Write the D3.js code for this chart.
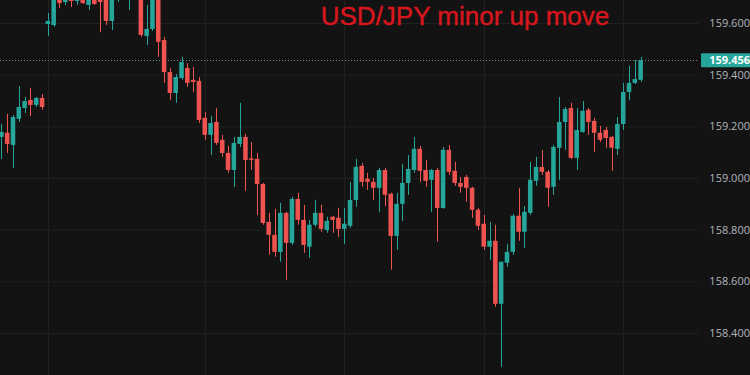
<!DOCTYPE html>
<html>
<head>
<meta charset="utf-8">
<script src="https://cdn.jsdelivr.net/npm/d3@7"></script>
<style>
  html, body { margin: 0; padding: 0; background: #131313; overflow: hidden; }
  svg { display: block; }
</style>
</head>
<body>
<svg id="mainSvg"></svg>
<script>
// OHLC of each candle, oldest first (USD/JPY)
const open = [
  159.159, 159.175, 159.128, 159.229, 159.271, 159.302, 159.283, 159.310, 159.596, 159.592,
  159.720, 159.681, 159.704, 159.685, 159.708, 159.670, 159.704, 159.701, 159.697, 159.608,
  159.708, 159.747, 159.708, 159.735, 159.750, 159.550, 159.577, 159.720, 159.534, 159.410,
  159.329, 159.387, 159.426, 159.380, 159.376, 159.233, 159.167, 159.217, 159.148, 159.097,
  159.031, 159.132, 159.159, 159.076, 159.074, 158.977, 158.830, 158.780, 158.714, 158.865,
  158.749, 158.919, 158.838, 158.734, 158.819, 158.865, 158.799, 158.850, 158.846, 158.803,
  158.815, 158.915, 159.047, 158.997, 158.985, 158.962, 159.031, 158.939, 158.776, 158.900,
  158.981, 159.031, 159.113, 159.031, 158.993, 159.031, 158.884, 159.109, 159.028, 158.981,
  159.004, 158.962, 158.877, 158.823, 158.734, 158.757, 158.513, 158.672, 158.714, 158.854,
  158.792, 158.865, 158.989, 159.043, 159.024, 158.966, 159.117, 159.217, 159.271, 159.078,
  159.178, 159.264, 159.221, 159.175, 159.186, 159.159, 159.113, 159.209, 159.333, 159.368, 159.380
];
const high = [
  159.209, 159.248, 159.244, 159.356, 159.314, 159.349, 159.314, 159.325, 159.639, 159.728,
  159.735, 159.728, 159.728, 159.735, 159.728, 159.728, 159.724, 159.720, 159.712, 159.720,
  159.747, 159.775, 159.766, 159.770, 159.770, 159.670, 159.747, 159.735, 159.546, 159.426,
  159.403, 159.469, 159.445, 159.430, 159.391, 159.256, 159.240, 159.271, 159.167, 159.124,
  159.159, 159.291, 159.171, 159.140, 159.097, 158.981, 158.865, 158.881, 158.904, 158.869,
  158.927, 158.943, 158.896, 158.838, 158.915, 158.896, 158.850, 158.854, 158.884, 158.884,
  158.985, 159.074, 159.058, 159.020, 159.000, 159.039, 159.039, 158.943, 158.943, 159.055,
  159.089, 159.159, 159.124, 159.070, 159.035, 159.039, 159.120, 159.128, 159.062, 159.004,
  159.012, 158.966, 158.884, 158.857, 158.830, 158.819, 158.676, 158.745, 158.861, 158.962,
  158.892, 159.062, 159.082, 159.109, 159.031, 159.128, 159.314, 159.275, 159.291, 159.271,
  159.298, 159.271, 159.233, 159.202, 159.198, 159.163, 159.236, 159.368, 159.434, 159.457, 159.469
];
const low = [
  159.074, 159.097, 159.039, 159.217, 159.252, 159.240, 159.275, 159.264, 159.550, 159.585,
  159.658, 159.670, 159.662, 159.670, 159.674, 159.650, 159.670, 159.565, 159.592, 159.573,
  159.681, 159.697, 159.650, 159.700, 159.546, 159.515, 159.569, 159.469, 159.368, 159.302,
  159.291, 159.380, 159.352, 159.333, 159.213, 159.148, 159.089, 159.128, 159.082, 159.020,
  158.966, 159.120, 158.950, 159.031, 158.857, 158.819, 158.703, 158.695, 158.676, 158.606,
  158.741, 158.819, 158.710, 158.691, 158.811, 158.792, 158.788, 158.788, 158.772, 158.745,
  158.807, 158.888, 158.966, 158.954, 158.915, 158.869, 158.892, 158.645, 158.722, 158.834,
  158.935, 159.020, 158.985, 158.966, 158.869, 158.753, 158.881, 159.012, 158.970, 158.943,
  158.908, 158.846, 158.799, 158.722, 158.683, 158.502, 158.269, 158.656, 158.703, 158.757,
  158.730, 158.857, 158.970, 159.012, 158.888, 158.935, 158.993, 159.109, 159.074, 159.031,
  159.175, 159.167, 159.101, 159.140, 159.117, 159.028, 159.089, 159.186, 159.302, 159.364, 159.372
];
const close = [
  159.178, 159.132, 159.236, 159.275, 159.298, 159.283, 159.310, 159.275, 159.608, 159.708,
  159.677, 159.704, 159.685, 159.708, 159.677, 159.701, 159.674, 159.681, 159.608, 159.701,
  159.728, 159.708, 159.735, 159.750, 159.554, 159.577, 159.728, 159.527, 159.410, 159.329,
  159.391, 159.449, 159.368, 159.372, 159.225, 159.167, 159.213, 159.136, 159.097, 159.031,
  159.136, 159.159, 159.070, 159.070, 158.977, 158.826, 158.780, 158.714, 158.865, 158.749,
  158.919, 158.838, 158.741, 158.819, 158.865, 158.803, 158.834, 158.838, 158.803, 158.823,
  158.915, 159.043, 158.985, 158.985, 158.962, 159.031, 158.935, 158.776, 158.900, 158.981,
  159.035, 159.113, 159.028, 158.989, 159.031, 158.884, 159.109, 159.024, 158.981, 158.966,
  158.962, 158.877, 158.815, 158.734, 158.757, 158.513, 158.676, 158.714, 158.854, 158.792,
  158.869, 158.993, 159.043, 159.024, 158.962, 159.120, 159.217, 159.267, 159.078, 159.186,
  159.260, 159.217, 159.175, 159.148, 159.155, 159.117, 159.209, 159.333, 159.368, 159.383, 159.456
];
// price ticks on the right scale
const priceTicks = [158.4, 158.6, 158.8, 159.0, 159.2, 159.4, 159.6];
// candles where a session separator falls
const sessionBreaks = [8, 35, 59, 83, 107];
const title = "USD/JPY minor up move";

const width = 750;
const height = 375;
const plotRight = 699;
const upColor = "#26a69a";
const downColor = "#ef5350";

const candles = close.map((c, i) => ({ i, o: open[i], h: high[i], l: low[i], c }));

const svg = d3.select("#mainSvg")
  .attr("width", width)
  .attr("height", height);

const xScale = d3.scaleBand()
  .domain(candles.map(d => d.i))
  .range([-0.9, 642.9])
  .paddingInner(0.22);

const yScale = d3.scaleLinear()
  .domain([158.4, 159.6])
  .range([333, 23]);

const xMid = i => xScale(i) + xScale.bandwidth() / 2;

// grid
svg.append("g")
  .attr("transform", `translate(${plotRight},0)`)
  .call(d3.axisLeft(yScale).tickValues(priceTicks).tickSize(plotRight).tickFormat(""))
  .call(g => g.select(".domain").remove())
  .selectAll("line")
  .attr("stroke", "#202020");

svg.append("g")
  .selectAll("line")
  .data(sessionBreaks)
  .enter()
  .append("line")
  .attr("x1", d => Math.round(xMid(d)) + 0.5)
  .attr("x2", d => Math.round(xMid(d)) + 0.5)
  .attr("y1", 0)
  .attr("y2", height)
  .attr("stroke", "#202020");

// title, kept inside the top edge
svg.append("text")
  .attr("x", 465)
  .attr("y", 25)
  .attr("text-anchor", "middle")
  .style("font-family", "'Liberation Sans', Arial, sans-serif")
  .style("font-size", "26px")
  .attr("fill", "#d8161d")
  .attr("stroke", "#d8161d")
  .attr("stroke-width", 0.4)
  .text(title);

// last price line
const last = candles[candles.length - 1];
svg.append("line")
  .attr("x1", 0)
  .attr("x2", plotRight)
  .attr("y1", Math.round(yScale(last.c)) + 0.5)
  .attr("y2", Math.round(yScale(last.c)) + 0.5)
  .attr("stroke", "#7d8590")
  .attr("stroke-dasharray", "1,2");

// candles
const candleG = svg.append("g")
  .selectAll("g")
  .data(candles)
  .enter()
  .append("g");

candleG.append("line")
  .attr("x1", d => Math.round(xMid(d.i)) + 0.5)
  .attr("x2", d => Math.round(xMid(d.i)) + 0.5)
  .attr("y1", d => yScale(d.h))
  .attr("y2", d => yScale(d.l))
  .attr("stroke", d => d.c >= d.o ? upColor : downColor)
  .attr("stroke-width", 1);

candleG.append("rect")
  .attr("x", d => xScale(d.i))
  .attr("width", xScale.bandwidth())
  .attr("y", d => yScale(Math.max(d.o, d.c)))
  .attr("height", d => Math.max(1, Math.abs(yScale(d.o) - yScale(d.c))))
  .attr("fill", d => d.c >= d.o ? upColor : downColor);

// right price scale
const yAxis = svg.append("g")
  .attr("transform", `translate(${width},0)`)
  .call(d3.axisLeft(yScale).tickValues(priceTicks).tickSize(0).tickFormat(d3.format(".3f")));
yAxis.select(".domain").remove();
yAxis.selectAll("text")
  .attr("x", 0)
  .attr("text-anchor", "end")
  .style("font-family", "'Open Sans', sans-serif")
  .style("font-size", "11px")
  .attr("fill", "#b2b5be");

// last price label
svg.append("rect")
  .attr("x", 701)
  .attr("y", yScale(last.c) - 7)
  .attr("width", 50)
  .attr("height", 14)
  .attr("rx", 1)
  .attr("fill", upColor);

svg.append("text")
  .attr("x", 750)
  .attr("y", yScale(last.c))
  .attr("dy", "0.35em")
  .attr("text-anchor", "end")
  .style("font-family", "'Open Sans', sans-serif")
  .style("font-size", "11px")
  .style("font-weight", "bold")
  .attr("fill", "#ffffff")
  .text(d3.format(".3f")(last.c));
</script>
</body>
</html>
